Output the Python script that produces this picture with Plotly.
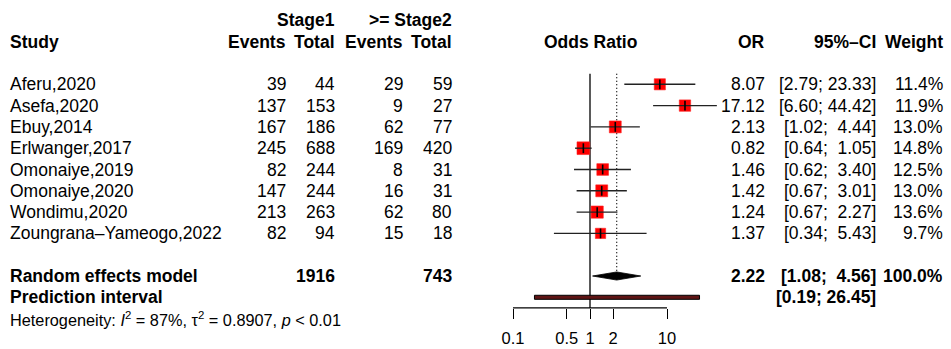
import math
import plotly.graph_objects as go

# ---------------- data ----------------
studies = ["Aferu,2020", "Asefa,2020", "Ebuy,2014", "Erlwanger,2017",
           "Omonaiye,2019", "Omonaiye,2020", "Wondimu,2020",
           "Zoungrana\u2013Yameogo,2022"]
events1 = [39, 137, 167, 245, 82, 147, 213, 82]
total1 = [44, 153, 186, 688, 244, 244, 263, 94]
events2 = [29, 9, 62, 169, 8, 16, 62, 15]
total2 = [59, 27, 77, 420, 31, 31, 80, 18]
odds = [8.07, 17.12, 2.13, 0.82, 1.46, 1.42, 1.24, 1.37]
ci_lo = [2.79, 6.60, 1.02, 0.64, 0.62, 0.67, 0.67, 0.34]
ci_hi = [23.33, 44.42, 4.44, 1.05, 3.40, 3.01, 2.27, 5.43]
weights = [11.4, 11.9, 13.0, 14.8, 12.5, 13.0, 13.6, 9.7]

re_or, re_lo, re_hi = 2.22, 1.08, 4.56
pi_lo, pi_hi = 0.19, 26.45
sum_total1, sum_total2 = 1916, 743
het_I2, het_tau2, het_p = 87, 0.8907, "&lt; 0.01"

tick_vals = [0.1, 0.5, 1, 2, 10]
tick_text = ["0.1", "0.5", "1", "2", "10"]

# ---------------- layout helpers ----------------
W, H = 951, 349
FONT = "Liberation Sans, Arial, Helvetica, sans-serif"
FS = 17.5
row_px0, row_step = 84.3, 21.3          # pixel y of row 0, pixels per row
y_top = -row_px0 / row_step
y_bot = (H - row_px0) / row_step
px_per_dec = 77.0
x_one_px = 590.0
xr0 = -x_one_px / px_per_dec
xr1 = (W - x_one_px) / px_per_dec

n = len(studies)
study_rows = list(range(n))
re_row = n + 1
pi_row = n + 2
het_row = n + 3.02
axis_row = n + 2.5
top_row = -0.5

def px(x):
    return x / W

def nb(s):
    return s.replace(" ", "\u00a0")

fig = go.Figure()

# CI lines
xs, ys = [], []
for r, a, b in zip(study_rows, ci_lo, ci_hi):
    xs += [a, b, None]
    ys += [r, r, None]

# squares (area proportional to weight)
wmax = max(weights)
sizes = [12.7 * math.sqrt(w / wmax) for w in weights]
fig.add_trace(go.Scatter(x=odds, y=study_rows, mode="markers",
                         marker=dict(symbol="square", size=sizes, color="#ff0000",
                                     opacity=1, line=dict(width=0.6, color="#ff2020")),
                         hoverinfo="skip"))
fig.add_trace(go.Scatter(x=xs, y=ys, mode="lines",
                         line=dict(color="#222222", width=1.4), hoverinfo="skip"))
fig.add_trace(go.Scatter(x=odds, y=study_rows, mode="markers",
                         marker=dict(symbol="line-ns", size=7, opacity=1,
                                     line=dict(width=1.6, color="black")),
                         hoverinfo="skip"))

# diamond
dh = 0.19
fig.add_trace(go.Scatter(x=[re_lo, re_or, re_hi, re_or, re_lo],
                         y=[re_row, re_row - dh, re_row, re_row + dh, re_row],
                         mode="lines", fill="toself", fillcolor="black",
                         line=dict(color="black", width=0.8), hoverinfo="skip"))

# prediction interval
ph = 0.095
fig.add_trace(go.Scatter(x=[pi_lo, pi_hi, pi_hi, pi_lo, pi_lo],
                         y=[pi_row - ph, pi_row - ph, pi_row + ph, pi_row + ph, pi_row - ph],
                         mode="lines", fill="toself", fillcolor="#5e1414",
                         line=dict(color="black", width=1), hoverinfo="skip"))

shapes = [
    # line of no effect
    dict(type="line", xref="x", yref="y", x0=1, x1=1, y0=top_row, y1=axis_row,
         line=dict(color="black", width=1.3), layer="below"),
    # random effects estimate
    dict(type="line", xref="x", yref="y", x0=re_or, x1=re_or, y0=top_row, y1=re_row - dh,
         line=dict(color="black", width=1.3, dash="1px,2.5px"), layer="below"),
    # axis line
    dict(type="line", xref="x", yref="y", x0=tick_vals[0], x1=tick_vals[-1],
         y0=axis_row, y1=axis_row, line=dict(color="black", width=1.3)),
]

ann = []
def T(text, xpx, row, anchor="right", bold=False, size=FS):
    if bold:
        text = "<b>" + text + "</b>"
    ann.append(dict(text=text, x=px(xpx), xref="paper", y=row, yref="y",
                    xanchor=anchor, yanchor="middle", showarrow=False,
                    font=dict(family=FONT, size=size, color="black")))

# column positions (px)
c_study, c_e1, c_t1, c_e2, c_t2 = 8, 288, 337, 405, 454
c_plot, c_or, c_ci, c_w = 590, 767, 878, 945

# headers
T("Stage1", c_t1, -3, bold=True)
T(">= Stage2", c_t2, -3, bold=True)
T("Study", c_study, -2, anchor="left", bold=True)
T("Events", c_e1, -2, bold=True)
T("Total", c_t1, -2, bold=True)
T("Events", c_e2, -2, bold=True)
T("Total", c_t2, -2, bold=True)
T("Odds Ratio", c_plot, -2, anchor="center", bold=True)
T("OR", c_or, -2, bold=True)
T("95%\u2013CI", c_ci, -2, bold=True)
T("Weight", c_w, -2, bold=True)

for i, r in enumerate(study_rows):
    T(studies[i], c_study, r, anchor="left")
    T(str(events1[i]), c_e1, r)
    T(str(total1[i]), c_t1, r)
    T(str(events2[i]), c_e2, r)
    T(str(total2[i]), c_t2, r)
    T(f"{odds[i]:.2f}", c_or, r)
    T(nb(f"[{ci_lo[i]:.2f}; {ci_hi[i]:5.2f}]"), c_ci, r)
    T(f"{weights[i]:.1f}%", c_w, r)

T("Random effects model", c_study, re_row, anchor="left", bold=True)
T(str(sum_total1), c_t1, re_row, bold=True)
T(str(sum_total2), c_t2, re_row, bold=True)
T(f"{re_or:.2f}", c_or, re_row, bold=True)
T(nb(f"[{re_lo:.2f}; {re_hi:5.2f}]"), c_ci, re_row, bold=True)
T("100.0%", c_w, re_row, bold=True)
T("Prediction interval", c_study, pi_row, anchor="left", bold=True)
T(nb(f"[{pi_lo:.2f}; {pi_hi:5.2f}]"), c_ci, pi_row, bold=True)
T(f"Heterogeneity: <i>I</i><sup>2</sup> = {het_I2}%, \u03c4<sup>2</sup> = {het_tau2}, <i>p</i> {het_p}",
  c_study, het_row, anchor="left", size=16.3)

fig.update_layout(
    width=W, height=H, margin=dict(l=0, r=0, t=0, b=0, autoexpand=False),
    paper_bgcolor="white", plot_bgcolor="white", showlegend=False,
    shapes=shapes, annotations=ann,
    xaxis=dict(type="log", range=[xr0, xr1], domain=[0, 1], automargin=False,
               anchor="free", position=1 - (row_px0 + row_step * axis_row) / H,
               showgrid=False, zeroline=False, showline=False,
               ticks="outside", ticklen=10, tickwidth=1.3, tickcolor="black",
               tickvals=tick_vals, ticktext=tick_text, ticklabelstandoff=5,
               tickfont=dict(family=FONT, size=16.5, color="black")),
    yaxis=dict(range=[y_bot, y_top], showgrid=False, zeroline=False, automargin=False,
               showticklabels=False, showline=False, domain=[0, 1]),
)

fig.write_html("out.html")
